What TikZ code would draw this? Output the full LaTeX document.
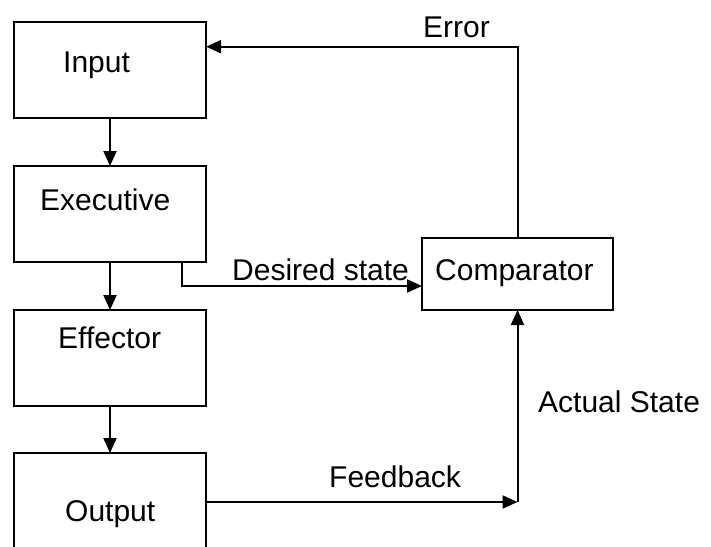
\documentclass[tikz,border=0pt]{standalone}
\usepackage{fontspec}
\setmainfont{Liberation Sans}
\usetikzlibrary{arrows.meta}
\begin{document}
\begin{tikzpicture}[x=1pt,y=-1pt,
  box/.style={draw, line width=2pt, minimum width=192pt, minimum height=96pt, inner sep=0pt, outer sep=0pt},
  cbox/.style={draw, line width=2pt, minimum width=191pt, minimum height=72pt, inner sep=0pt, outer sep=0pt},
  lbl/.style={anchor=base west, inner sep=0pt, font=\fontsize{30pt}{36pt}\selectfont},
  conn/.style={line width=2pt},
  arr/.style={line width=2pt, -{Triangle[length=15pt,width=13pt]}}]
\useasboundingbox (0,0) rectangle (711,546);
\clip (0,0) rectangle (711,546);
% boxes
\node[box] (input) at (110,70) {};
\node[box] (exec) at (110,214) {};
\node[box] (eff) at (110,358) {};
\node[box] (out) at (110,501) {};
\node[cbox] (comp) at (517.5,274) {};
% labels
\node[lbl] (tinput) at (63,72) {Input};
\node[lbl] (texec) at (40,210) {Executive};
\node[lbl] (teff) at (58,348) {Effector};
\node[lbl] (tout) at (65,521) {Output};
\node[lbl] (tcomp) at (435,280) {Comparator};
\node[lbl] (tdes) at (232,280) {Desired state};
\node[lbl] (terr) at (423,37) {Error};
\node[lbl] (tfb) at (329,487) {Feedback};
\node[lbl] (tact) at (538,412) {Actual State};
% corner coordinates
\coordinate (ec) at (517.5,46.7);
\coordinate (ds) at (182,286);
\coordinate (fb) at (517.5,502);
% connectors
\draw[arr] (input.south) -- (exec.north);
\draw[arr] (exec.south) -- (eff.north);
\draw[arr] (eff.south) -- (out.north);
\draw[arr] (comp.north) -- (ec) -- (input.east |- ec);
\draw[arr] (exec.south -| ds) -- (ds) -- (comp.west |- ds);
\draw[arr] (out.east |- fb) -- (fb);
\draw[arr] (fb) -- (comp.south);
\end{tikzpicture}
\end{document}
